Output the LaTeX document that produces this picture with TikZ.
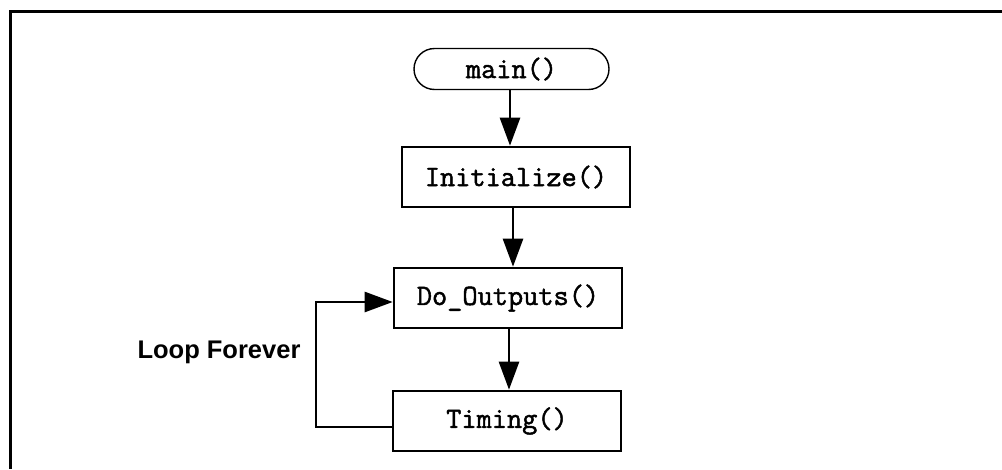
\documentclass[tikz,border=0pt]{standalone}
\usepackage{fontspec}
\setmainfont{Liberation Sans}
\newfontfamily\codefont{Latin Modern Mono}[FakeBold=1.6]
\usetikzlibrary{arrows.meta,shapes.misc}
\begin{document}
\begin{tikzpicture}[x=1pt,y=-1pt,
  proc/.style={draw,line width=2.6pt,minimum width=228pt,minimum height=60pt,
    font=\codefont\fontsize{29.5}{32}\selectfont,inner sep=0pt},
  term/.style={draw,line width=1.4pt,rounded rectangle,minimum width=195pt,minimum height=41pt,
    font=\codefont\fontsize{29.5}{32}\selectfont,inner sep=0pt},
  flow/.style={line width=2.6pt,-{Triangle[length=28pt,width=20pt]}},
  lbl/.style={font=\bfseries\fontsize{25.5}{30}\selectfont}]
\clip (0,0) rectangle (1002,469);
\fill[white] (0,0) rectangle (1002,469);
\draw[line width=3pt] (1002,11) -- (10.5,11) -- (10.5,469);
\node[term] (main) at (511.5,69) {main()};
\node[proc] (init) at (516,177) {Initialize()};
\node[proc] (do) at (508,298) {Do\_Outputs()};
\node[proc] (tim) at (507,421) {Timing()};
\node[lbl] (loop) at (219,352) {Loop Forever};
\coordinate (c1) at (316,427);
\coordinate (c2) at (316,302);
\draw[flow] (510,89) coordinate (m1) -- (m1 |- init.north);
\draw[flow] (513,208) coordinate (i1) -- (i1 |- do.north);
\draw[flow] (509,329) coordinate (d1) -- (d1 |- tim.north);
\draw[flow] (tim.west |- c1) -- (c1) -- (c2) -- (do.west |- c2);
\end{tikzpicture}
\end{document}
